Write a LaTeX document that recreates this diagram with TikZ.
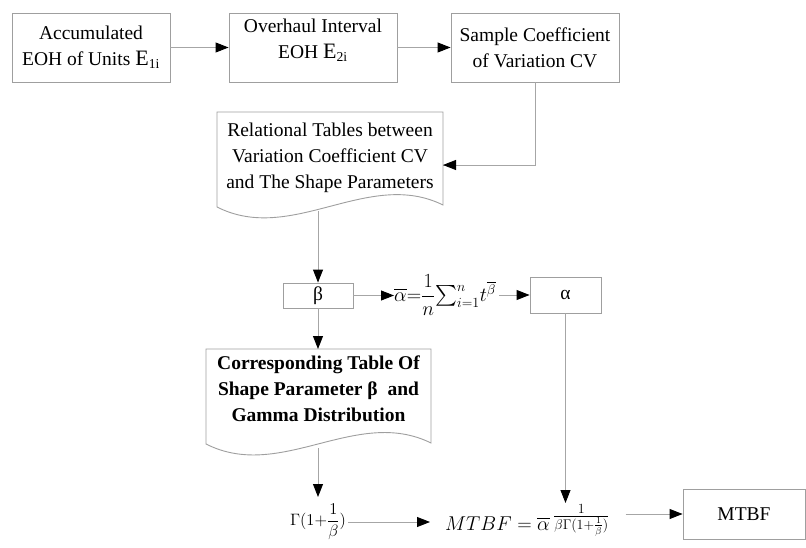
\documentclass[tikz,border=0pt]{standalone}
\usepackage{fix-cm}
\usepackage{amsmath}
\usepackage{fontspec}
\setmainfont{Liberation Serif}
\usetikzlibrary{arrows.meta}
\newcommand\boxfont{\fontsize{19.5}{26}\selectfont}
\newcommand\mathfont{\fontsize{20}{24}\selectfont}
\begin{document}
\begin{tikzpicture}[x=1pt,y=-1pt,
  boxst/.style={draw=gray!75, line width=0.9pt, inner sep=0pt, align=center, font=\boxfont},
  txt/.style={inner sep=0pt, align=center, font=\boxfont},
  doct/.style={draw=gray!75, line width=0.9pt, fill=white},
  fml/.style={inner sep=0pt, font=\mathfont},
  conn/.style={draw=gray!70, line width=0.9pt, -{Triangle[length=13pt,width=10pt,color=black,fill=black]}},
  plain/.style={draw=gray!70, line width=0.9pt}]
\useasboundingbox (0,0) rectangle (806,548);
% top row
\node[boxst, minimum width=158pt, minimum height=69pt] (b1) at (91,47.5)
  {Accumulated\\EOH of Units {\fontsize{22}{26}\selectfont E}\textsubscript{1i}};
\node[boxst, minimum width=168pt, minimum height=69pt] (b2) at (313,47.5) {};
\node[txt] (b2t) at (313,40) {Overhaul Interval\\EOH {\fontsize{22}{26}\selectfont E}\textsubscript{2i}};
\node[boxst, minimum width=168pt, minimum height=69pt] (b3) at (535,47.5)
  {Sample Coefficient\\of Variation CV};
\draw[conn] (b1.east) -- (b2.west);
\draw[conn] (b2.east) -- (b3.west);
% document 1
\draw[doct] (217,112) -- (443,112) -- (443,205)
  .. controls (368,168) and (292,245) .. (217,207) -- cycle;
\node[txt] (d1) at (330,158) {Relational Tables between\\Variation Coefficient CV\\and The Shape Parameters};
\coordinate (d1r) at (443,165);
\coordinate (d1b) at (318,211);
\draw[plain] (b3.south) |- (d1r);
\draw[conn] (b3.south |- d1r) -- (d1r);
% beta row
\node[boxst, minimum width=70pt, minimum height=25pt] (beta) at (318,295.5) {β};
\draw[conn] (d1b) -- (beta.north);
\node[fml, anchor=west] (f1) at (394,295)
  {$\overline{\alpha}{=}\dfrac{1}{n}{\textstyle\sum\nolimits_{i=1}^{n}}t^{\overline{\beta}}$};
\node[boxst, minimum width=71pt, minimum height=36pt] (alpha) at (565.5,295) {α};
\draw[conn] (beta.east) -- (beta.east -| f1.west);
\draw[conn, shorten <=3pt] (f1.east |- alpha.west) -- (alpha.west);
% document 2
\draw[doct] (206,349) -- (431,349) -- (431,443)
  .. controls (356,406) and (281,482) .. (206,444) -- cycle;
\node[txt, font=\boxfont\bfseries] (d2) at (318.5,389) {Corresponding Table Of\\Shape Parameter β\ \ and\\Gamma Distribution};
\coordinate (d2t) at (318,349);
\coordinate (d2b) at (318,448);
\draw[conn] (beta.south) -- (d2t);
% bottom row
\node[fml, font=\fontsize{16.5}{20}\selectfont] (gam) at (318,522)
  {$\Gamma(1{+}\dfrac{1}{\beta})$};
\coordinate (gtop) at (318,497);
\draw[conn] (d2b) -- (gtop);
\node[fml, anchor=base west] (mf) at (445,530)
  {$MTBF\;{=}\;\overline{\alpha}\,\raisebox{9pt}{$\textstyle\frac{1}{\beta\Gamma(1+\frac{1}{\beta})}$}$};
\node[boxst, minimum width=122pt, minimum height=50pt] (mbox) at (744,514) {MTBF};
\coordinate (ftop) at (566,503);
\draw[conn] (alpha.south) -- (alpha.south |- ftop);
\draw[conn, shorten >=15pt, shorten <=2pt] (gam.east) -- (gam.east -| mf.west);
\draw[conn, shorten <=16pt] (mbox.west -| mf.east) -- (mbox.west);
\end{tikzpicture}
\end{document}
